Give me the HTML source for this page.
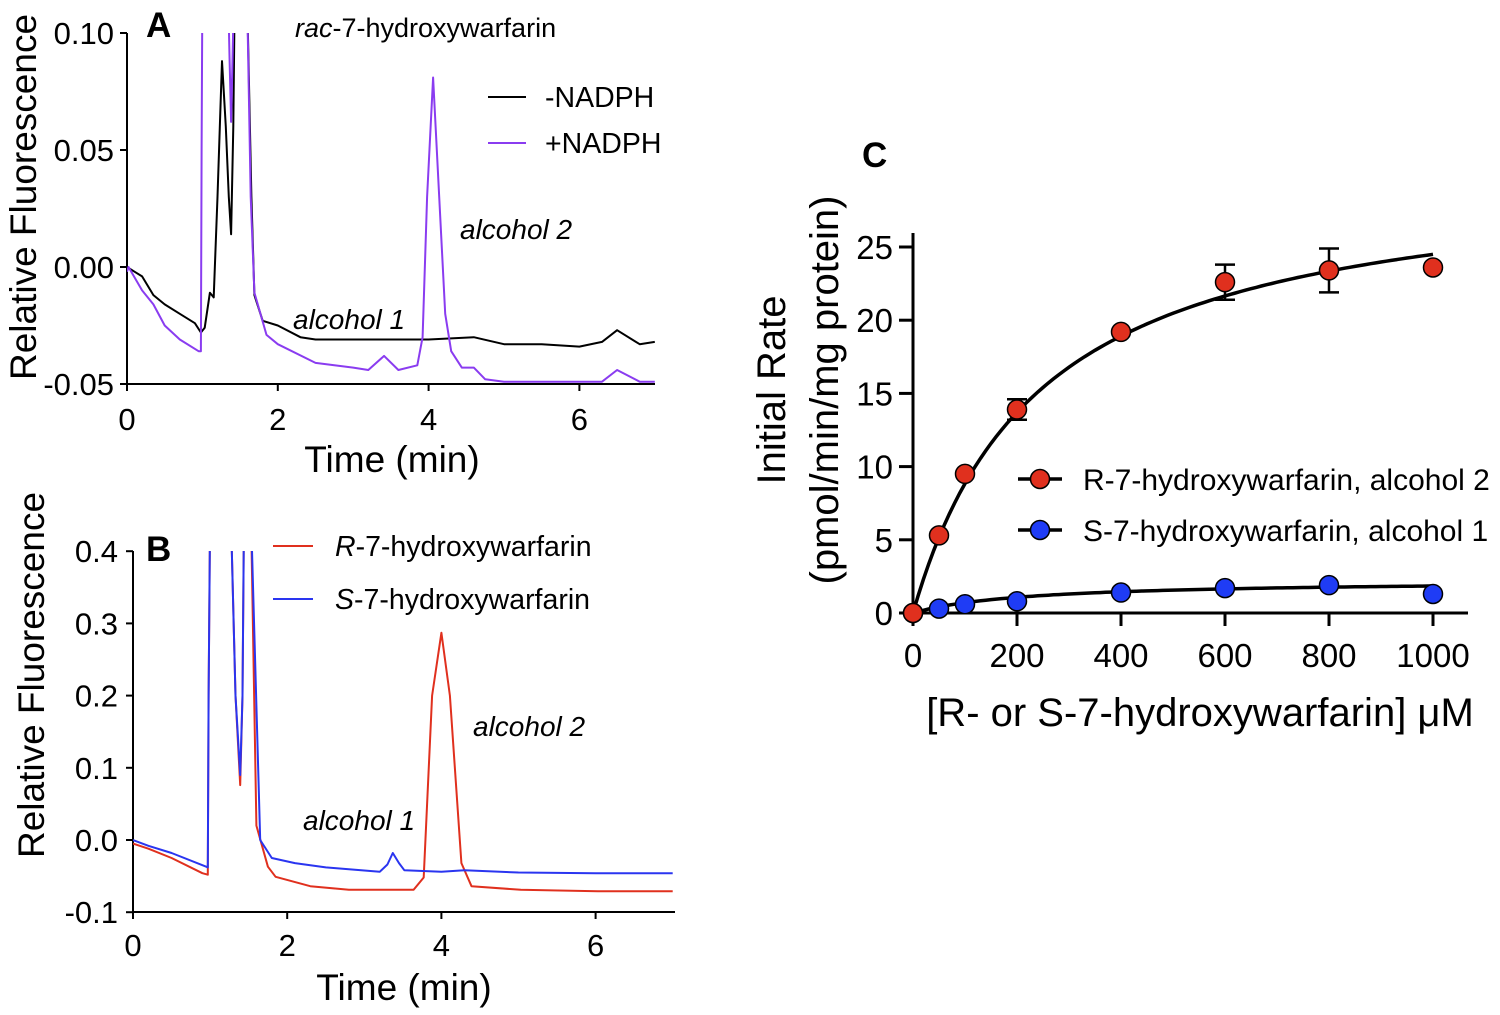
<!DOCTYPE html>
<html><head><meta charset="utf-8"><style>
body{margin:0;background:#fff}
svg{display:block;font-family:"Liberation Sans",sans-serif}
</style></head><body>
<svg id="fig" width="1500" height="1015" viewBox="0 0 1500 1015">
<defs>
<clipPath id="clipA"><rect x="127" y="33" width="540" height="352"/></clipPath>
<clipPath id="clipB"><rect x="133" y="551" width="545" height="362"/></clipPath>
</defs>
<g id="pA"></g>
<g id="pB"></g>
<g id="pC"></g>
</svg>
<script>
// ---- Panel A data (time min, fluorescence) ----
const aBlackT=[0,0.1,0.2,0.35,0.5,0.7,0.9,0.98,1.03,1.1,1.15,1.2,1.26,1.31,1.35,1.38,1.41,1.43,1.59,1.65,1.69,1.8,2.0,2.3,2.5,3.0,3.5,4.0,4.6,5.0,5.5,6.0,6.3,6.5,6.8,7.0];
const aBlackV=[0,-0.002,-0.004,-0.012,-0.016,-0.02,-0.024,-0.028,-0.026,-0.011,-0.013,0.03,0.088,0.06,0.03,0.014,0.06,0.12,0.12,0.03,-0.012,-0.023,-0.025,-0.03,-0.031,-0.031,-0.031,-0.031,-0.03,-0.033,-0.033,-0.034,-0.032,-0.027,-0.033,-0.032];
const aPurpleT=[0,0.02,0.2,0.35,0.5,0.7,0.95,0.98,0.99,1.0,1.34,1.36,1.38,1.40,1.42,1.59,1.64,1.69,1.85,2.0,2.5,3.0,3.2,3.41,3.6,3.85,3.92,3.98,4.06,4.14,4.22,4.3,4.44,4.6,4.75,5.0,5.5,6.0,6.3,6.5,6.8,7.0];
const aPurpleV=[-0.002,0,-0.01,-0.016,-0.025,-0.031,-0.036,-0.036,0.05,0.12,0.12,0.09,0.062,0.09,0.12,0.12,0.03,-0.011,-0.029,-0.033,-0.041,-0.043,-0.044,-0.038,-0.044,-0.042,-0.03,0.03,0.081,0.03,-0.02,-0.036,-0.043,-0.043,-0.048,-0.049,-0.049,-0.049,-0.049,-0.044,-0.049,-0.049];
const aYTicks=[0.10,0.05,0.00,-0.05];
const aYLabels=["0.10","0.05","0.00","-0.05"];
const aXTicks=[0,2,4,6];
// ---- Panel B data ----
const bRedT=[0,0.2,0.5,0.9,0.97,0.98,1.0,1.27,1.33,1.39,1.42,1.44,1.53,1.6,1.75,1.85,2.3,2.8,3.2,3.64,3.77,3.88,4.0,4.11,4.26,4.39,5.03,6.03,7.0];
const bRedV=[-0.005,-0.012,-0.025,-0.046,-0.048,0.2,0.45,0.45,0.2,0.076,0.2,0.45,0.45,0.02,-0.037,-0.051,-0.064,-0.069,-0.069,-0.069,-0.052,0.2,0.287,0.2,-0.032,-0.064,-0.069,-0.071,-0.071];
const bBlueT=[0,0.2,0.5,0.95,0.97,0.98,1.0,1.27,1.33,1.39,1.42,1.44,1.53,1.65,1.8,2.1,2.5,3.2,3.3,3.37,3.45,3.52,4.0,4.3,5.0,6.0,7.0];
const bBlueV=[0,-0.008,-0.018,-0.037,-0.038,0.2,0.45,0.45,0.2,0.09,0.2,0.45,0.45,0.0,-0.025,-0.032,-0.038,-0.044,-0.034,-0.018,-0.032,-0.042,-0.044,-0.042,-0.045,-0.046,-0.046];
const bYTicks=[0.4,0.3,0.2,0.1,0.0,-0.1];
const bYLabels=["0.4","0.3","0.2","0.1","0.0","-0.1"];
const bXTicks=[0,2,4,6];
// ---- Panel C data ----
const cConc=[0,50,100,200,400,600,800,1000];
const cR=[0,5.3,9.5,13.9,19.2,22.6,23.4,23.6];
const cRErr=[0,0,0,0.7,0,1.2,1.5,0];
const cS=[0,0.3,0.6,0.8,1.4,1.7,1.9,1.3];
const cRFit=[30.5,245]; // Vmax, Km
const cSFit=[2.25,220];
const cYTicks=[0,5,10,15,20,25];
const cXTicks=[0,200,400,600,800,1000];

const NS="http://www.w3.org/2000/svg";
function mk(parent,tag,attrs,text){const e=document.createElementNS(NS,tag);for(const k in attrs)e.setAttribute(k,attrs[k]);if(text!==undefined)e.textContent=text;parent.appendChild(e);return e;}

// Panel A
const pA=document.getElementById('pA');
const axA={x:t=>127+t*75.4,y:v=>267-v*2340};
mk(pA,'line',{x1:127,y1:33,x2:127,y2:384,stroke:'#000','stroke-width':2});
mk(pA,'line',{x1:127,y1:384,x2:655,y2:384,stroke:'#000','stroke-width':2});
aYTicks.forEach((v,i)=>{
  mk(pA,'line',{x1:120,y1:axA.y(v),x2:127,y2:axA.y(v),stroke:'#000','stroke-width':2});
  const t=mk(pA,'text',{x:114,y:axA.y(v)+11,'text-anchor':'end','font-size':31},aYLabels[i]);
  
  
});
aXTicks.forEach(v=>{
  mk(pA,'line',{x1:axA.x(v),y1:384,x2:axA.x(v),y2:391,stroke:'#000','stroke-width':2});
  const t=mk(pA,'text',{x:axA.x(v),y:430,'text-anchor':'middle','font-size':31},String(v));
  
  
});
function trace(parent,T,V,ax,color,clip,name){
  const d=T.map((t,i)=>(i?'L':'M')+ax.x(t).toFixed(1)+','+ax.y(V[i]).toFixed(1)).join('');
  const p=mk(parent,'path',{d:d,fill:'none',stroke:color,'stroke-width':2,'clip-path':'url(#'+clip+')','stroke-linejoin':'round'});
  
  
}
trace(pA,aBlackT,aBlackV,axA,'#000','clipA','trace-minus-nadph');
trace(pA,aPurpleT,aPurpleV,axA,'#8a3cf0','clipA','trace-plus-nadph');

// Panel B
const pB=document.getElementById('pB');
const axB={x:t=>133+t*77.1,y:v=>840-v*722};
mk(pB,'line',{x1:133,y1:551,x2:133,y2:912,stroke:'#000','stroke-width':2});
mk(pB,'line',{x1:133,y1:912,x2:675,y2:912,stroke:'#000','stroke-width':2});
bYTicks.forEach((v,i)=>{
  mk(pB,'line',{x1:126,y1:axB.y(v),x2:133,y2:axB.y(v),stroke:'#000','stroke-width':2});
  const t=mk(pB,'text',{x:118,y:axB.y(v)+11,'text-anchor':'end','font-size':31},bYLabels[i]);
  
  
});
bXTicks.forEach(v=>{
  mk(pB,'line',{x1:axB.x(v),y1:912,x2:axB.x(v),y2:919,stroke:'#000','stroke-width':2});
  const t=mk(pB,'text',{x:axB.x(v),y:956,'text-anchor':'middle','font-size':31},String(v));
  
  
});
trace(pB,bRedT,bRedV,axB,'#e0301e','clipB','trace-r-7-hydroxywarfarin');
trace(pB,bBlueT,bBlueV,axB,'#2a35f0','clipB','trace-s-7-hydroxywarfarin');

// Panel C
const pC=document.getElementById('pC');
const axC={x:c=>913+c*0.52,y:v=>613-v*14.64};
mk(pC,'line',{x1:913,y1:233,x2:913,y2:613,stroke:'#000','stroke-width':3});
mk(pC,'line',{x1:913,y1:613,x2:1468,y2:613,stroke:'#000','stroke-width':3});
cYTicks.forEach(v=>{
  mk(pC,'line',{x1:899,y1:axC.y(v),x2:913,y2:axC.y(v),stroke:'#000','stroke-width':3});
  const t=mk(pC,'text',{x:893,y:axC.y(v)+12,'text-anchor':'end','font-size':33},String(v));
  
  
});
cXTicks.forEach(v=>{
  mk(pC,'line',{x1:axC.x(v),y1:613,x2:axC.x(v),y2:626,stroke:'#000','stroke-width':3});
  const t=mk(pC,'text',{x:axC.x(v),y:667,'text-anchor':'middle','font-size':33},String(v));
  
  
});
function fit(p,name){
  let d='';for(let c=0;c<=1000;c+=10){const v=p[0]*c/(p[1]+c);d+=(c?'L':'M')+axC.x(c).toFixed(1)+','+axC.y(v).toFixed(1);}
  const e=mk(pC,'path',{d:d,fill:'none',stroke:'#000','stroke-width':3.5});
  
  
}
fit(cRFit,'fit-curve-r');fit(cSFit,'fit-curve-s');
cConc.forEach((c,i)=>{
  if(cRErr[i]>0){
    const x=axC.x(c),y1=axC.y(cR[i]+cRErr[i]),y2=axC.y(cR[i]-cRErr[i]);
    mk(pC,'path',{d:`M${x},${y1}L${x},${y2}M${x-10},${y1}L${x+10},${y1}M${x-10},${y2}L${x+10},${y2}`,stroke:'#000','stroke-width':2.5,fill:'none'});
  }
});
cConc.forEach((c,i)=>{
  const p=mk(pC,'circle',{cx:axC.x(c),cy:axC.y(cS[i]),r:9.5,fill:'#1f3cf5',stroke:'#000','stroke-width':1.5});
  
  
});
cConc.forEach((c,i)=>{
  const p=mk(pC,'circle',{cx:axC.x(c),cy:axC.y(cR[i]),r:9.5,fill:'#e0301e',stroke:'#000','stroke-width':1.5});
  
  
});
</script>
<svg style="position:absolute;left:0;top:0" width="1500" height="1015" font-family="Liberation Sans, sans-serif">
<g>
<text x="146" y="37" font-size="35" font-weight="bold">A</text>
<text x="295" y="37" font-size="27"><tspan font-style="italic">rac</tspan>-7-hydroxywarfarin</text>
<text transform="translate(36,197) rotate(-90)" text-anchor="middle" font-size="37">Relative Fluorescence</text>
<text x="392" y="472" text-anchor="middle" font-size="37">Time (min)</text>
<line x1="488" y1="97" x2="526" y2="97" stroke="#000" stroke-width="2"/>
<text x="545" y="107" font-size="28.5">-NADPH</text>
<line x1="488" y1="143" x2="526" y2="143" stroke="#8a3cf0" stroke-width="2"/>
<text x="545" y="153" font-size="28.5">+NADPH</text>
<text x="460" y="239" font-size="28" font-style="italic">alcohol 2</text>
<text x="293" y="329" font-size="28" font-style="italic">alcohol 1</text>
</g>
<g>
<text x="146" y="561" font-size="35" font-weight="bold">B</text>
<text transform="translate(44,675) rotate(-90)" text-anchor="middle" font-size="37">Relative Fluorescence</text>
<text x="404" y="1000" text-anchor="middle" font-size="37">Time (min)</text>
<line x1="273" y1="546" x2="313" y2="546" stroke="#e0301e" stroke-width="2"/>
<text x="335" y="556" font-size="28.5"><tspan font-style="italic">R</tspan>-7-hydroxywarfarin</text>
<line x1="273" y1="599" x2="313" y2="599" stroke="#2a35f0" stroke-width="2"/>
<text x="335" y="609" font-size="28.5"><tspan font-style="italic">S</tspan>-7-hydroxywarfarin</text>
<text x="473" y="736" font-size="28" font-style="italic">alcohol 2</text>
<text x="303" y="830" font-size="28" font-style="italic">alcohol 1</text>
</g>
<g>
<text x="862" y="167" font-size="35" font-weight="bold">C</text>
<text transform="translate(785,390) rotate(-90)" text-anchor="middle" font-size="40">Initial Rate</text>
<text transform="translate(838,390) rotate(-90)" text-anchor="middle" font-size="40">(pmol/min/mg protein)</text>
<text x="1200" y="726" text-anchor="middle" font-size="40">[R- or S-7-hydroxywarfarin] μM</text>
<line x1="1018" y1="479" x2="1062" y2="479" stroke="#000" stroke-width="3.5"/>
<circle cx="1040" cy="479" r="9.5" fill="#e0301e" stroke="#000" stroke-width="1.5"/>
<text x="1083" y="490" font-size="30">R-7-hydroxywarfarin, alcohol 2</text>
<line x1="1018" y1="530" x2="1062" y2="530" stroke="#000" stroke-width="3.5"/>
<circle cx="1040" cy="530" r="9.5" fill="#1f3cf5" stroke="#000" stroke-width="1.5"/>
<text x="1083" y="541" font-size="30">S-7-hydroxywarfarin, alcohol 1</text>
</g>
</svg>
</body></html>
